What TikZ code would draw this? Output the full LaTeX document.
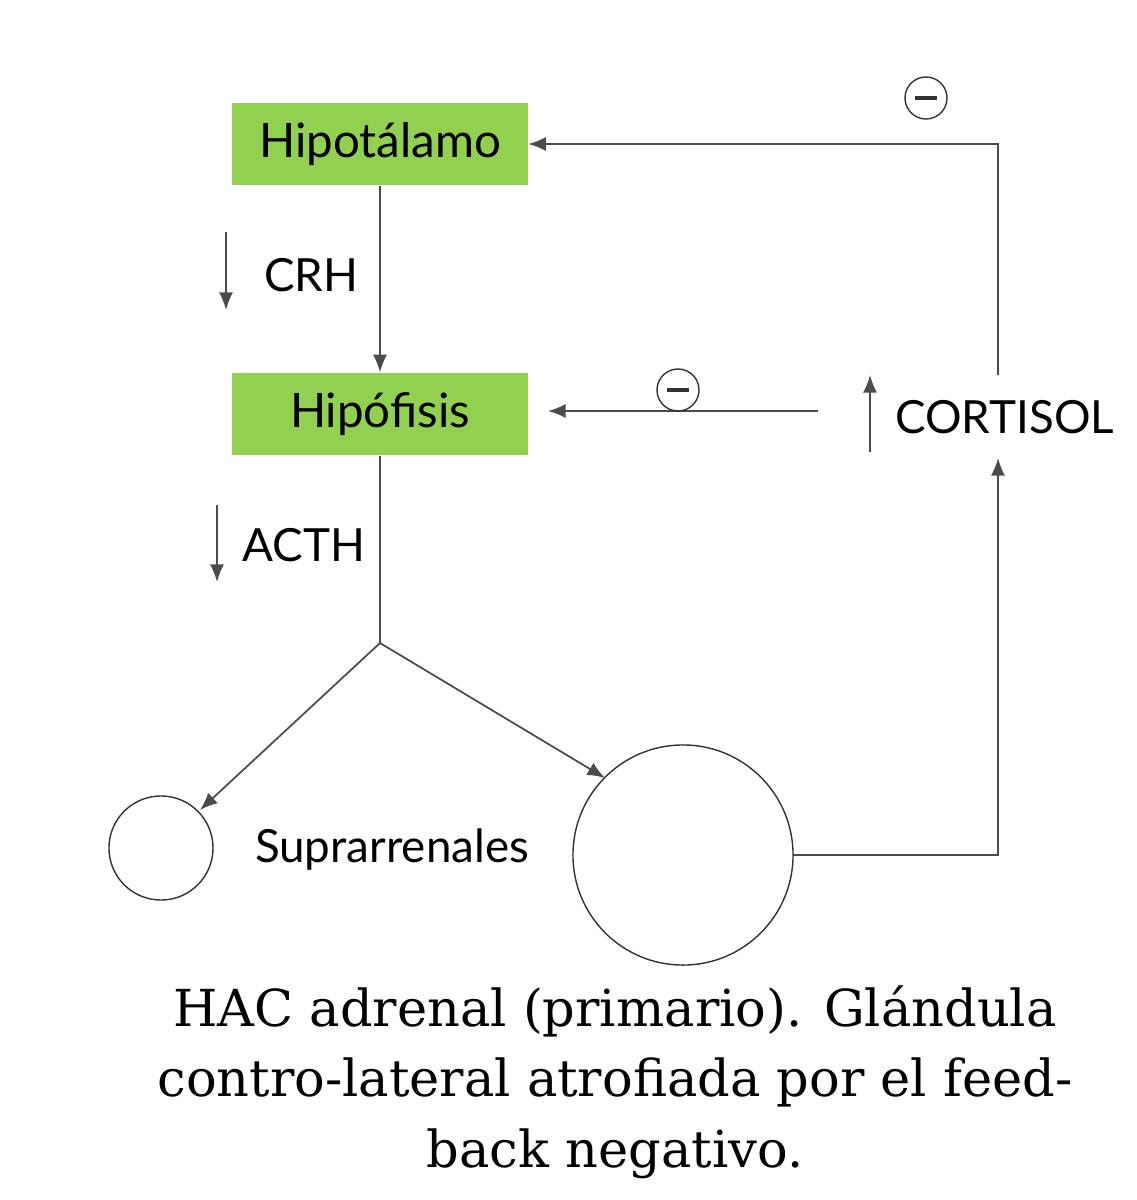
\documentclass[tikz,border=0pt]{standalone}
\usepackage{fontspec}
\setmainfont{Lato}
\newfontfamily\capfont{DejaVu Serif}
\usetikzlibrary{arrows.meta}
\definecolor{gland}{HTML}{92D050}
\tikzset{
  box/.style={fill=gland,minimum width=2.95cm,minimum height=0.82cm,font=\fontsize{13.5}{16}\selectfont},
  lbl/.style={font=\fontsize{13}{16}\selectfont},
  flow/.style={draw=black!70,line width=0.5pt,-{Latex[length=5pt,width=4pt]}},
  minus/.style={circle,draw=black!80,minimum size=0.42cm,inner sep=0pt,
    path picture={\draw[line width=1pt] ([xshift=-1.1mm]path picture bounding box.center) -- ([xshift=1.1mm]path picture bounding box.center);}}
}
\begin{document}
\begin{tikzpicture}[x=0.01cm,y=-0.01cm]
\useasboundingbox (0,0) rectangle (1137,1200);

% glandulas centrales
\node[box] (hipo) at (380,144) {Hipotálamo};
\node[box] (hipof) at (380,414) {Hipófisis};
\draw[flow] (hipo) -- (hipof);

\draw[flow] (226,232) -- (226,310);
\node[lbl,anchor=west] (crh) at (252,275) {CRH};
\draw[flow] (217,505) -- (217,582);
\node[lbl,anchor=west] (acth) at (230,545) {ACTH};

% suprarrenales
\coordinate (split) at (380,643);
\node[circle,draw=black!80,minimum size=1.04cm] (adrL) at (161,848) {};
\node[circle,draw=black!80,minimum size=2.2cm] (adrR) at (683,855) {};
\node[lbl] (supra) at (392,850) {Suprarrenales};
\draw[black!70] (hipof) -- (split);
\draw[flow] (split) -- (200,810);
\draw[flow] (split) -- (605,778);

% cortisol
\node[lbl,anchor=west] (cort) at (883,417) {CORTISOL};
\draw[flow] (870,452) -- (870,375);
\coordinate (cb) at (998,855);
\draw[flow] (adrR.east) -- (cb) -- (998,458);
\draw[flow] (998,375) -- (998,144) -- (hipo.east);
\draw[flow] (818,411) -- (548,411);
\node[minus] (m1) at (926,98) {};
\node[minus] (m2) at (678,390) {};

% pie
\node[align=center,font=\capfont\fontsize{14.5}{20}\selectfont] (cap) at (615,1082)
  {HAC adrenal (primario). Glándula\\contro-lateral atrofiada por el feed-\\back negativo.};
\end{tikzpicture}
\end{document}
